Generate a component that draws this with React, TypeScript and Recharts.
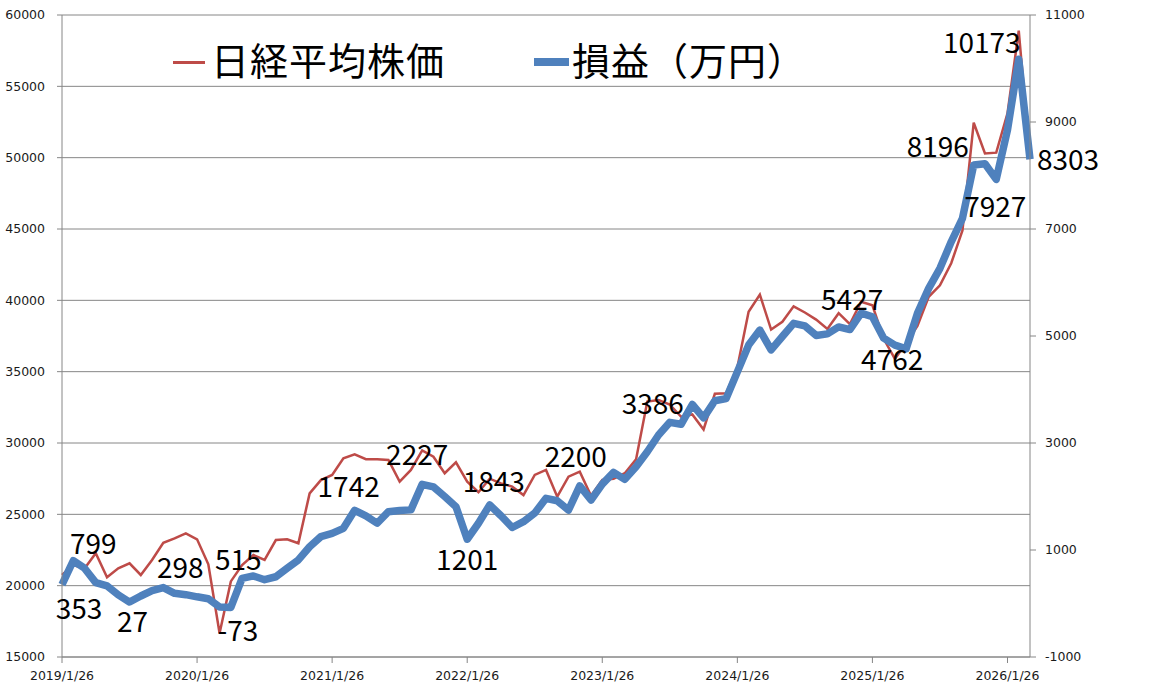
import React from "react";
import {
  LineChart,
  Line,
  XAxis,
  YAxis,
  CartesianGrid,
  Legend,
  LabelList,
} from "recharts";

// monthly points, 2019/1/26 .. 2026/3/26
const years = [2019, 2020, 2021, 2022, 2023, 2024, 2025, 2026];
const months = [1, 2, 3, 4, 5, 6, 7, 8, 9, 10, 11, 12];
const dates = years.flatMap((y) => months.map((m) => `${y}/${m}/26`)).slice(0, 87);

// 日経平均株価 (left axis)
const nikkei = [
  20750, 21450, 21200, 22270, 20590, 21220, 21570, 20750, 21800, 23010, 23320, 23670,
  23250, 21500, 16660, 20300, 21450, 22150, 21800, 23200, 23250, 22970, 26470, 27400,
  27760, 28930, 29210, 28860, 28860, 28810, 27290, 28110, 29480, 29040, 27880, 28650,
  27290, 26550, 27500, 27170, 26940, 26350, 27760, 28110, 26240, 27640, 27990, 26300,
  27410, 27500, 27880, 28850, 32900, 33010, 32700, 31840, 32000, 30950, 33450, 33480,
  35300, 39200, 40400, 37950, 38500, 39580, 39150, 38650, 38000, 39100, 38330, 39900,
  39650, 37300, 35900, 37000, 38200, 40250, 41050, 42600, 44900, 52450, 50300, 50350,
  53100, 58900, 49900,
];

// 損益（万円） (right axis)
const profit = [
  353, 799, 660, 390, 330, 160, 27, 140, 240, 298, 190, 165,
  125, 90, -65, -73, 470, 515, 445, 500, 660, 815, 1060, 1250,
  1310, 1405, 1742, 1640, 1500, 1716, 1740, 1750, 2227, 2180, 2000, 1810,
  1201, 1500, 1843, 1640, 1420, 1530, 1690, 1966, 1920, 1747, 2200, 1934,
  2230, 2450, 2320, 2557, 2837, 3150, 3386, 3350, 3720, 3470, 3790, 3830,
  4330, 4830, 5110, 4740, 4990, 5237, 5190, 5010, 5040, 5170, 5120, 5427,
  5360, 4960, 4830, 4762, 5424, 5890, 6265, 6760, 7200, 8196, 8220, 7927,
  8850, 10173, 8303,
];

const leftTicks = [15000, 20000, 25000, 30000, 35000, 40000, 45000, 50000, 55000, 60000];
const rightTicks = [-1000, 1000, 3000, 5000, 7000, 9000, 11000];

// which points carry a value label, and where the text sits relative to the point
const labelOffsets: Record<number, [number, number]> = {
  0: [17, 24],
  1: [20, -17],
  6: [3, 20],
  9: [17, -20],
  15: [7, 24],
  17: [-15, -16],
  26: [-6, -23],
  32: [-5, -29],
  36: [0, 21],
  38: [4, -23],
  46: [-4, -29],
  54: [-17, -18],
  71: [-9, -13],
  75: [-14, 11],
  81: [-36, -18],
  83: [-1, 28],
  85: [-37, -16],
  86: [38, 1],
};

const data = dates.map((date, i) => ({ date, nikkei: nikkei[i], profit: profit[i] }));

const RED = "#BE4B48";
const BLUE = "#4F81BD";
const GRID = "#868686";
const tickStyle = { fontSize: 12.5, fill: "#1a1a1a", fontFamily: "DejaVu Sans" };

function PointLabel(props: any) {
  const { x, y, value, index } = props;
  const off = labelOffsets[index];
  if (!off) return null;
  return (
    <text
      x={x + off[0]}
      y={y + off[1] + 10}
      textAnchor="middle"
      fontSize={28}
      fontFamily="Noto Sans CJK JP"
      fill="#000"
    >
      {value}
    </text>
  );
}

function LegendBox() {
  const txt = {
    position: "absolute" as const,
    top: 40,
    fontSize: 38,
    lineHeight: 1,
    letterSpacing: 1,
    fontFamily: "Noto Sans CJK JP",
    color: "#000",
    whiteSpace: "nowrap" as const,
  };
  return (
    <div style={{ position: "relative", width: 1161, height: 100 }}>
      <div style={{ position: "absolute", left: 173, top: 61, width: 32, height: 3, background: RED }} />
      <span style={{ ...txt, left: 211 }}>日経平均株価</span>
      <div style={{ position: "absolute", left: 534, top: 58, width: 35, height: 8, background: BLUE }} />
      <span style={{ ...txt, left: 572 }}>損益（万円）</span>
    </div>
  );
}

export default function App() {
  return (
    <div style={{ position: "absolute", left: 0, top: 0, background: "#fff" }}>
      <LineChart
        width={1161}
        height={697}
        data={data}
        margin={{ top: 15, right: 0, bottom: 0, left: 0 }}
      >
        <CartesianGrid yAxisId="left" vertical={false} stroke={GRID} strokeWidth={1} />
        <XAxis
          dataKey="date"
          interval={11}
          height={40}
          stroke={GRID}
          tickSize={6}
          tickMargin={8}
          tick={tickStyle}
        />
        <YAxis
          yAxisId="left"
          domain={[15000, 60000]}
          ticks={leftTicks}
          width={62}
          stroke={GRID}
          tickSize={5}
          tickMargin={12}
          tick={tickStyle}
        />
        <YAxis
          yAxisId="right"
          orientation="right"
          domain={[-1000, 11000]}
          ticks={rightTicks}
          width={131}
          stroke={GRID}
          tickSize={6}
          tickMargin={9}
          tick={{ ...tickStyle, textAnchor: "start" }}
        />
        <Legend
          verticalAlign="middle"
          align="center"
          content={() => <LegendBox />}
          wrapperStyle={{ left: 0, top: 0, width: 1161, height: 100 }}
        />
        <Line
          yAxisId="left"
          dataKey="nikkei"
          stroke={RED}
          strokeWidth={2.5}
          dot={false}
          activeDot={false}
          isAnimationActive={false}
        />
        <Line
          yAxisId="right"
          dataKey="profit"
          stroke={BLUE}
          strokeWidth={7.5}
          strokeLinejoin="round"
          dot={false}
          activeDot={false}
          isAnimationActive={false}
        >
          <LabelList dataKey="profit" content={<PointLabel />} />
        </Line>
      </LineChart>
    </div>
  );
}
